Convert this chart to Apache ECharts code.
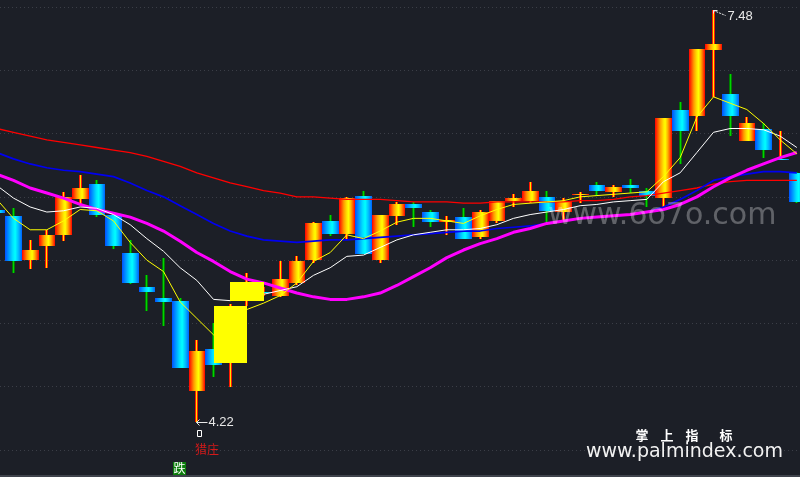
<!DOCTYPE html>
<html>
<head>
<meta charset="utf-8">
<script src="https://cdn.jsdelivr.net/npm/echarts@6/dist/echarts.min.js"></script>
<style>
html,body{margin:0;padding:0;background:#1c1f27;}
#c{width:800px;height:477px;}
</style>
</head>
<body>
<div id="c"></div>
<script>
// bar index (first bar is partly off the left edge)
const bars = [0,1,2,3,4,5,6,7,8,9,10,11,12,13,14,15,16,17,18,19,20,21,22,23,24,25,26,27,28,29,30,31,32,33,34,35,36,37,38,39,40,41,42,43,44,45,46,47,48];
const open  = [5.90,5.85,5.50,5.61,5.70,5.98,6.10,5.86,5.56,5.29,5.20,5.18,4.47,4.80,4.69,5.18,5.25,5.22,5.32,5.50,5.81,5.71,6.01,5.50,5.85,5.94,5.88,5.80,5.84,5.685,5.81,5.97,5.97,6.00,5.88,6.015,6.09,6.04,6.09,6.05,5.99,6.69,6.64,7.16,6.81,6.44,6.54,6.30,6.19];
const close = [5.875,5.49,5.58,5.70,6.00,6.07,5.86,5.61,5.32,5.25,5.17,4.65,4.78,4.67,5.14,5.33,5.25,5.35,5.49,5.79,5.71,5.99,5.55,5.86,5.94,5.915,5.80,5.82,5.67,5.88,5.97,5.99,6.05,5.89,5.97,6.025,6.05,6.08,6.07,6.01,6.62,6.52,7.17,7.21,6.64,6.58,6.37,6.30,5.96];
const low   = [5.86,5.40,5.43,5.44,5.65,5.94,5.84,5.59,5.31,5.10,4.98,4.65,4.22,4.58,4.50,5.14,5.22,5.21,5.30,5.48,5.69,5.67,5.55,5.48,5.78,5.76,5.76,5.70,5.67,5.67,5.79,5.92,5.95,5.80,5.82,5.95,6.01,6.00,6.03,5.92,5.92,6.26,6.52,6.79,6.48,6.44,6.31,6.29,5.95];
const high  = [5.91,5.91,5.66,5.74,6.04,6.17,6.13,5.87,5.66,5.38,5.52,5.20,4.87,5.00,5.15,5.40,5.29,5.49,5.53,5.80,5.86,6.00,6.05,5.86,5.96,5.96,5.90,5.85,5.91,5.90,5.97,6.02,6.12,6.05,5.99,6.04,6.12,6.09,6.14,6.07,6.62,6.75,7.17,7.48,6.97,6.63,6.58,6.52,6.20];

// moving-average style lines
const maYellow  = [5.98,5.83,5.74,5.74,5.81,5.90,5.89,5.81,5.64,5.50,5.41,5.17,5.04,4.91,5.01,5.11,5.16,5.22,5.32,5.49,5.56,5.70,5.67,5.73,5.80,5.83,5.83,5.81,5.79,5.85,5.90,5.94,5.95,5.96,5.97,6.00,6.01,6.02,6.03,6.04,6.16,6.31,6.63,6.79,6.74,6.69,6.58,6.45,6.34];
const maWhite   = [6.09,5.99,5.92,5.88,5.89,5.92,5.91,5.86,5.78,5.67,5.57,5.44,5.34,5.19,5.18,5.20,5.23,5.26,5.29,5.38,5.44,5.53,5.54,5.60,5.66,5.70,5.72,5.74,5.74,5.75,5.78,5.83,5.86,5.88,5.90,5.93,5.94,5.96,5.97,5.98,6.12,6.19,6.35,6.51,6.54,6.54,6.53,6.48,6.39];
const maMagenta = [6.18,6.13,6.07,6.03,5.99,5.94,5.90,5.87,5.84,5.79,5.73,5.65,5.56,5.49,5.41,5.35,5.32,5.28,5.24,5.21,5.19,5.19,5.21,5.24,5.30,5.37,5.44,5.52,5.58,5.63,5.67,5.72,5.75,5.79,5.81,5.83,5.84,5.85,5.86,5.88,5.90,5.94,6.00,6.08,6.15,6.21,6.26,6.31,6.35];
const maBlue    = [6.35,6.30,6.26,6.23,6.21,6.20,6.18,6.16,6.11,6.05,6.00,5.93,5.86,5.79,5.73,5.69,5.66,5.65,5.64,5.65,5.66,5.66,5.67,5.68,5.69,5.70,5.71,5.72,5.73,5.73,5.75,5.76,5.77,5.79,5.81,5.83,5.84,5.85,5.86,5.88,5.92,5.98,6.05,6.13,6.16,6.18,6.20,6.20,6.19];
const maRed     = [6.54,6.51,6.48,6.45,6.43,6.41,6.39,6.37,6.35,6.32,6.28,6.24,6.19,6.15,6.11,6.08,6.05,6.03,6.00,6.00,5.99,5.98,5.98,5.98,5.97,5.96,5.96,5.96,5.95,5.95,5.96,5.96,5.96,5.96,5.96,5.97,5.97,5.98,6.00,6.01,6.03,6.05,6.07,6.10,6.12,6.13,6.13,6.13,6.13];

// indicator marks
const boxBars = [14, 15];        // wide yellow sticks over these bars' bodies
const highBar = 43, highText = '7.48';
const lowBar = 12,  lowText = '4.22';
const hunterBar = 12, hunterText = '猎庄';
const fallBar = 11, fallText = '跌';

// y axis ticks
const yMin = 4.0, yMax = 7.5, yStep = 0.5;

const chart = echarts.init(document.getElementById('c'), null, {renderer: 'canvas'});
const LG = echarts.graphic.LinearGradient;
const upGrad = new LG(0, 0, 1, 0, [
  {offset: 0, color: '#ff0000'}, {offset: 0.12, color: '#ff3c00'}, {offset: 0.3, color: '#ff9a00'},
  {offset: 0.5, color: '#ffe600'}, {offset: 0.6, color: '#ffff00'}, {offset: 0.75, color: '#ffb000'},
  {offset: 0.9, color: '#ff4a00'}, {offset: 1, color: '#ff0000'}]);
const downGrad = new LG(0, 0, 1, 0, [
  {offset: 0, color: '#0050ff'}, {offset: 0.2, color: '#0090ff'}, {offset: 0.45, color: '#00e0ff'},
  {offset: 0.6, color: '#00ffff'}, {offset: 0.8, color: '#00b8ff'}, {offset: 1, color: '#0060ff'}]);

const candleData = bars.map((k, j) => [k, open[j], close[j], low[j], high[j]]);
const boxData = boxBars.map(k => [k, open[k], close[k]]);

function renderCandle(params, api) {
  const k = api.value(0), o = api.value(1), c = api.value(2), l = api.value(3), h = api.value(4);
  const w = api.size([1, 0])[0];
  const po = api.coord([k, o]), pc = api.coord([k, c]), pl = api.coord([k, l]), ph = api.coord([k, h]);
  const up = c >= o;
  const doji = c === o;
  const cx = Math.floor(po[0]);
  const x0 = Math.round(po[0] - w / 2), x1 = Math.round(po[0] + w / 2);
  const yt = Math.round(Math.min(po[1], pc[1])), yb = Math.round(Math.max(po[1], pc[1]));
  const wy0 = Math.round(ph[1]), wy1 = Math.round(pl[1]);
  return {type: 'group', children: [
    {type: 'rect', shape: {x: cx - 1, y: wy0, width: 3, height: Math.max(1, wy1 - wy0)}, style: {fill: up ? '#ff1a00' : '#007a00'}},
    {type: 'rect', shape: {x: cx, y: wy0, width: 1, height: Math.max(1, wy1 - wy0)}, style: {fill: up ? '#ffe400' : '#00d400'}},
    {type: 'rect', shape: {x: x0, y: yt, width: x1 - x0, height: Math.max(1, yb - yt)}, style: {fill: doji ? downGrad : (up ? upGrad : downGrad)}}
  ]};
}
function renderBox(params, api) {
  const k = api.value(0), a = api.value(1), b = api.value(2);
  const w = api.size([1, 0])[0];
  const pa = api.coord([k, a]), pb = api.coord([k, b]);
  const x0 = Math.round(pa[0] - w), x1 = Math.round(pa[0] + w);
  const yt = Math.round(Math.min(pa[1], pb[1])), yb = Math.round(Math.max(pa[1], pb[1]));
  return {type: 'rect', shape: {x: x0, y: yt, width: x1 - x0, height: yb - yt}, style: {fill: '#ffff00'}};
}
function renderHigh(params, api) {
  const p = api.coord([api.value(0), api.value(1)]);
  const x = Math.floor(p[0]) + 0.5, y = Math.round(p[1]) + 0.5;
  const st = {stroke: '#e8e8e8', lineWidth: 1};
  return {type: 'group', children: [
    {type: 'line', shape: {x1: x, y1: y, x2: x + 4, y2: y}, style: st},
    {type: 'line', shape: {x1: x, y1: y, x2: x, y2: y + 3}, style: st},
    {type: 'line', shape: {x1: x, y1: y, x2: x + 12, y2: y + 5}, style: {stroke: '#e8e8e8', lineWidth: 1, lineDash: [2, 1]}},
    {type: 'text', x: x + 14, y: y + 6, style: {text: highText, fill: '#e8e8e8', font: '13px "Liberation Sans"', textAlign: 'left', textVerticalAlign: 'middle'}}
  ]};
}
function renderLow(params, api) {
  const p = api.coord([api.value(0), api.value(1)]);
  const x = Math.floor(p[0]) + 0.5, y = Math.round(p[1]) + 0.5;
  const st = {stroke: '#e8e8e8', lineWidth: 1};
  return {type: 'group', children: [
    {type: 'line', shape: {x1: x, y1: y, x2: x + 11, y2: y}, style: st},
    {type: 'line', shape: {x1: x, y1: y, x2: x + 3, y2: y - 3}, style: st},
    {type: 'line', shape: {x1: x, y1: y, x2: x + 3, y2: y + 3}, style: st},
    {type: 'text', x: x + 12, y: y, style: {text: lowText, fill: '#e8e8e8', font: '13px "Liberation Sans"', textAlign: 'left', textVerticalAlign: 'middle'}},
    {type: 'rect', shape: {x: x + 1, y: y + 8, width: 4, height: 6}, style: {fill: 'none', stroke: '#ffffff', lineWidth: 1}}
  ]};
}
function renderHunter(params, api) {
  const p = api.coord([api.value(0), api.value(1)]);
  return {type: 'text', x: Math.floor(p[0]) - 1, y: Math.round(p[1]) + 27, style: {text: hunterText, fill: '#d41a1a', font: '12px "Noto Sans CJK SC"', textAlign: 'left', textVerticalAlign: 'middle'}};
}
function renderFall(params, api) {
  const p = api.coord([api.value(0), yMin]);
  const cx = Math.round(p[0]) - 1, cy = Math.round(p[1]) + 18;
  return {type: 'group', children: [
    {type: 'rect', shape: {x: cx - 6, y: cy - 6, width: 13, height: 13}, style: {fill: '#0b7d0b'}},
    {type: 'text', x: cx + 0.5, y: cy + 0.5, style: {text: fallText, fill: '#ffffff', font: '12px "Noto Sans CJK SC"', textAlign: 'center', textVerticalAlign: 'middle'}}
  ]};
}
function line(name, arr, color, width, z) {
  return {name, type: 'line', data: bars.map((k, j) => [k, arr[j]]), showSymbol: false, symbol: 'none',
    lineStyle: {color, width}, z, silent: true};
}

chart.setOption({
  backgroundColor: '#1c1f27',
  animation: false,
  grid: {left: 0, right: 0, top: 7, bottom: 27},
  xAxis: {type: 'value', min: 0.19, max: 48.19, show: false},
  yAxis: {type: 'value', min: yMin, max: yMax, interval: yStep,
    axisLabel: {show: false}, axisLine: {show: false}, axisTick: {show: false},
    splitLine: {show: true, lineStyle: {color: '#3b3e47', width: 1, type: [1, 3]}}},
  series: [
    {type: 'custom', name: 'K', data: candleData, renderItem: renderCandle, z: 2, silent: true},
    line('MA120', maRed, '#ff0000', 1.3, 3),
    line('MA60', maBlue, '#0000f0', 1.7, 3),
    line('MA30', maMagenta, '#ff00ff', 3, 3),
    line('MA10', maWhite, '#ffffff', 1, 3),
    line('MA5', maYellow, '#ffff00', 1, 3),
    {type: 'custom', name: 'box', data: boxData, renderItem: renderBox, z: 4, silent: true},
    {type: 'custom', name: 'hi', data: [[highBar, high[highBar]]], renderItem: renderHigh, z: 5, silent: true},
    {type: 'custom', name: 'lo', data: [[lowBar, low[lowBar]]], renderItem: renderLow, z: 5, silent: true},
    {type: 'custom', name: 'hunter', data: [[hunterBar, low[hunterBar]]], renderItem: renderHunter, z: 5, silent: true},
    {type: 'custom', name: 'fall', data: [[fallBar, yMin]], renderItem: renderFall, z: 5, silent: true}
  ],
  graphic: [
    {type: 'text', left: 548, top: 201, z: 100, silent: true, style: {text: 'www.6o7o.com', fill: 'rgba(255,255,255,0.30)', font: '30px "DejaVu Sans"'}},
    {type: 'text', x: 642, y: 435, z: 100, silent: true, style: {text: '掌', fill: '#ffffff', font: 'bold 13px "Noto Sans CJK SC"', textAlign: 'center', textVerticalAlign: 'middle'}},
    {type: 'text', x: 667, y: 435, z: 100, silent: true, style: {text: '上', fill: '#ffffff', font: 'bold 13px "Noto Sans CJK SC"', textAlign: 'center', textVerticalAlign: 'middle'}},
    {type: 'text', x: 692, y: 435, z: 100, silent: true, style: {text: '指', fill: '#ffffff', font: 'bold 13px "Noto Sans CJK SC"', textAlign: 'center', textVerticalAlign: 'middle'}},
    {type: 'text', x: 726, y: 435, z: 100, silent: true, style: {text: '标', fill: '#ffffff', font: 'bold 13px "Noto Sans CJK SC"', textAlign: 'center', textVerticalAlign: 'middle'}},
    {type: 'text', left: 586, top: 443, z: 100, silent: true, style: {text: 'www.palmindex.com', fill: '#f2f2f2', font: '19px "DejaVu Sans"'}},
    {type: 'rect', left: 0, top: 475, z: 100, silent: true, shape: {width: 800, height: 2}, style: {fill: '#3e424b'}}
  ]
});
</script>
</body>
</html>
